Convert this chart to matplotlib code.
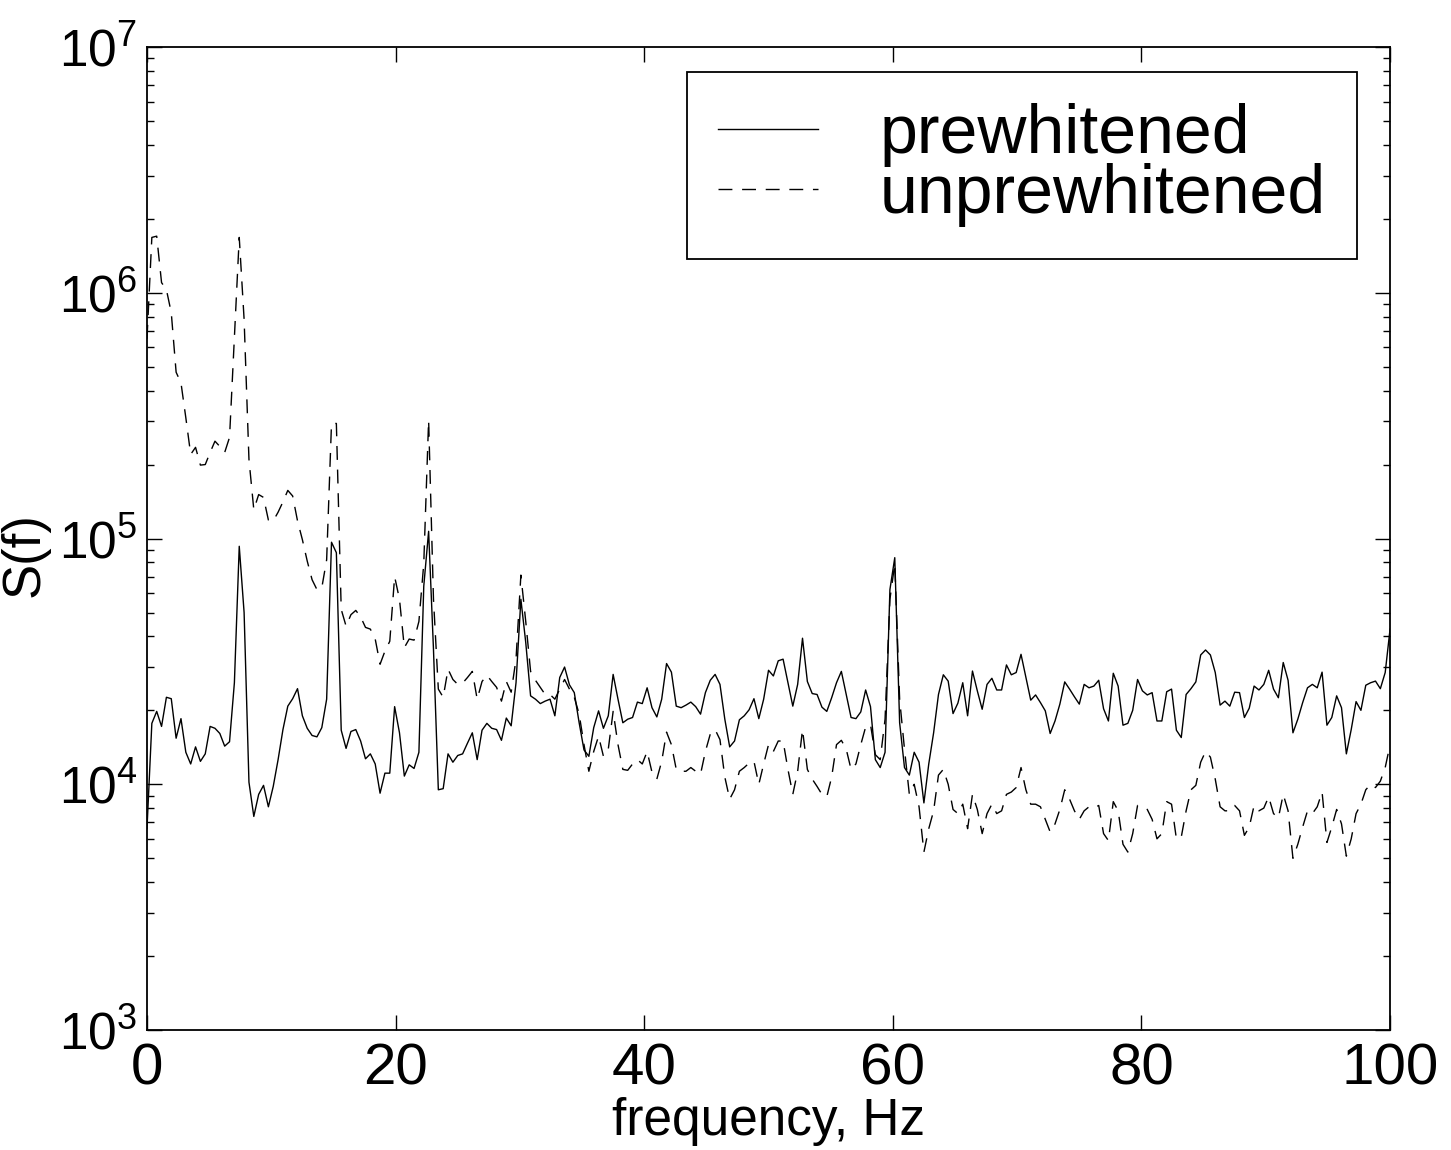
import numpy as np
import matplotlib
matplotlib.use('Agg')
import matplotlib.pyplot as plt

plt.rcParams['font.family'] = ['Liberation Sans', 'DejaVu Sans']
plt.rcParams['mathtext.fontset'] = 'custom'
plt.rcParams['mathtext.rm'] = 'Liberation Sans'
plt.rcParams['mathtext.it'] = 'Liberation Sans:italic'

# spectral estimates, 257 bins from 0 to 100 Hz (units of 1e3)
prewhitened = [
    6.6, 17.7, 19.8, 17.2, 22.6, 22.3, 15.4, 18.5, 13.5, 12.1,
    14.2, 12.4, 13.3, 17.2, 16.9, 16.1, 14.3, 14.9, 25.9, 93.0,
    50.0, 10.2, 7.4, 9.1, 9.9, 8.1, 9.8, 12.6, 16.7, 20.8,
    22.3, 24.5, 19.0, 16.9, 15.8, 15.6, 17.0, 22.2, 96.6, 87.6,
    16.6, 14.0, 16.4, 16.7, 15.0, 12.7, 13.3, 12.1, 9.2, 11.1,
    11.1, 20.7, 16.2, 10.8, 12.0, 11.6, 13.5, 64.0, 107.0, 35.4,
    9.5, 9.6, 13.3, 12.3, 13.1, 13.3, 14.7, 16.2, 12.6, 16.6,
    17.7, 16.9, 16.7, 15.1, 18.6, 17.3, 25.9, 56.6, 37.8, 22.9,
    22.2, 21.3, 21.8, 22.2, 19.0, 27.2, 30.0, 25.4, 23.6, 17.8,
    13.8, 13.0, 17.0, 19.9, 16.9, 19.0, 28.0, 22.2, 17.8, 18.4,
    18.7, 21.6, 21.3, 24.7, 20.5, 18.8, 22.2, 31.0, 28.6, 20.8,
    20.5, 21.0, 21.6, 20.7, 19.3, 23.6, 26.5, 28.0, 25.5, 18.4,
    14.2, 15.0, 18.3, 19.0, 20.1, 22.3, 18.5, 22.2, 29.1, 27.6,
    31.8, 32.3, 25.9, 20.8, 25.5, 39.3, 26.2, 23.4, 23.2, 20.6,
    19.8, 22.5, 25.9, 28.8, 23.2, 18.7, 18.5, 19.7, 24.2, 20.7,
    12.6, 11.7, 13.5, 62.0, 83.6, 17.8, 11.7, 10.9, 13.5, 12.3,
    8.4, 12.1, 16.2, 23.2, 27.9, 26.3, 19.4, 21.4, 25.9, 19.0,
    28.9, 24.0, 20.2, 25.5, 27.0, 24.2, 24.2, 30.6, 27.9, 28.5,
    33.8, 27.2, 22.0, 23.1, 21.5, 19.9, 16.1, 18.1, 21.2, 26.1,
    24.4, 22.7, 21.2, 25.5, 24.7, 25.1, 26.5, 20.3, 18.1, 28.3,
    25.1, 17.4, 17.7, 20.0, 26.7, 24.0, 23.1, 23.6, 18.1, 18.1,
    23.8, 24.4, 16.6, 15.5, 23.2, 24.5, 26.1, 33.6, 35.2, 33.6,
    28.5, 21.0, 21.8, 20.8, 23.7, 23.6, 18.7, 20.4, 25.1, 24.2,
    25.5, 29.1, 24.4, 22.5, 31.3, 26.5, 16.2, 18.4, 21.5, 24.7,
    25.5, 24.7, 28.6, 17.4, 18.7, 22.9, 20.5, 13.3, 16.7, 21.7,
    20.0, 25.3, 25.9, 26.3, 24.5, 28.5, 42.8,
]

unprewhitened = [
    650, 1680, 1700, 1100, 1030, 830, 475, 430, 310, 220,
    235, 199, 200, 224, 249, 237, 224, 258, 660, 1680,
    780, 210, 131, 151, 147, 119, 118, 128, 141, 157,
    149, 118, 99, 81, 68, 62, 63, 82, 294, 294,
    51.5, 44, 49, 51, 48, 43.5, 42.8, 39, 30.8, 34.8,
    38.2, 70, 56.6, 36, 39, 38.6, 46, 79, 303, 56.6,
    24.4, 22.6, 29.4, 26.7, 25.5, 25.8, 27.2, 28.8, 22.2, 26.2,
    27.8, 26.2, 24.8, 21.8, 26.2, 23.7, 32.3, 71, 46, 28.8,
    26.5, 24.8, 23.2, 23.2, 22.2, 24.4, 26.7, 24.4, 22.6, 19.3,
    14.5, 11.3, 13.6, 15.7, 13.0, 13.9, 19.8, 14.5, 11.5, 11.4,
    12.1, 12.6, 12.1, 13.6, 11.2, 10.5, 12.4, 16.3, 14.5, 11.5,
    11.3, 11.3, 11.7, 11.3, 11.0, 13.6, 16.0, 16.7, 15.2, 10.7,
    8.7, 9.5, 11.3, 11.7, 12.2, 12.4, 10.0, 12.1, 14.5, 13.6,
    15.0, 15.0, 11.5, 9.1, 11.3, 16.7, 11.5, 10.5, 9.8, 9.1,
    8.9, 10.7, 14.5, 15.1, 13.9, 11.5, 12.1, 14.5, 17.1, 17.5,
    13.2, 12.6, 18.4, 56.6, 79, 22.2, 13.9, 9.1, 10.0, 8.1,
    5.3, 6.6, 7.8, 10.9, 11.5, 10.0, 7.9, 7.6, 8.3, 6.6,
    9.1, 7.9, 6.3, 7.6, 8.3, 7.6, 7.8, 9.1, 9.3, 9.7,
    11.7, 9.5, 8.3, 8.3, 8.1, 7.2, 6.4, 6.9, 7.9, 9.5,
    8.7, 7.8, 7.2, 7.8, 8.1, 8.0, 8.2, 6.3, 5.9, 8.5,
    7.8, 5.7, 5.3, 6.3, 8.2, 8.1, 7.9, 7.2, 6.0, 6.3,
    8.5, 8.3, 6.0, 6.1, 7.8, 9.5, 9.9, 12.3, 13.6, 12.9,
    10.5, 8.1, 7.8, 7.8, 8.2, 7.8, 6.2, 6.7, 8.2, 7.8,
    8.0, 8.9, 7.6, 7.3, 9.1, 7.8, 5.0, 5.7, 6.7, 7.8,
    7.6, 8.1, 9.3, 5.8, 6.7, 7.9, 6.9, 5.1, 6.0, 7.6,
    8.3, 9.5, 10.0, 9.7, 10.3, 11.7, 14.5,
]

S_pre = np.array(prewhitened) * 1e3
S_unpre = np.array(unprewhitened) * 1e3
freq = np.linspace(0, 100, len(S_pre))

fig = plt.figure(figsize=(14.51, 11.5), dpi=100)
ax = fig.add_axes([0.1013, 0.1043, 0.8567, 0.8548])

ax.semilogy(freq, S_pre, color='black', lw=1.0, label='prewhitened')
ax.semilogy(freq, S_unpre, color='black', lw=1.0, linestyle=(0, (10, 7)),
            label='unprewhitened')

ax.set_xlim(0, 100)
ax.set_ylim(1e3, 1e7)
ax.set_xticks([0, 20, 40, 60, 80, 100])
ax.tick_params(which='both', direction='in', top=True, right=True, width=1.0)
ax.tick_params(which='major', length=11, pad=9)
ax.tick_params(which='minor', length=5)
ax.tick_params(axis='x', which='minor', bottom=False, top=False)
ax.tick_params(axis='x', labelsize=42)
ax.tick_params(axis='y', labelsize=37, pad=7)
for s in ax.spines.values():
    s.set_linewidth(1.3)

ax.set_xlabel('frequency, Hz', fontsize=37, labelpad=0)
ax.set_ylabel('S(f)', fontsize=38)
ax.yaxis.set_label_coords(-0.078, 0.484)

leg = ax.legend(loc='upper right', bbox_to_anchor=(0.9735, 0.9746),
                fontsize=49, frameon=True, fancybox=False, edgecolor='black',
                framealpha=1, handlelength=1.47, handletextpad=0.9,
                labelspacing=-0.06, borderpad=0.46, borderaxespad=0)
leg.get_frame().set_linewidth(1.3)

fig.savefig('out.png', dpi=100)
